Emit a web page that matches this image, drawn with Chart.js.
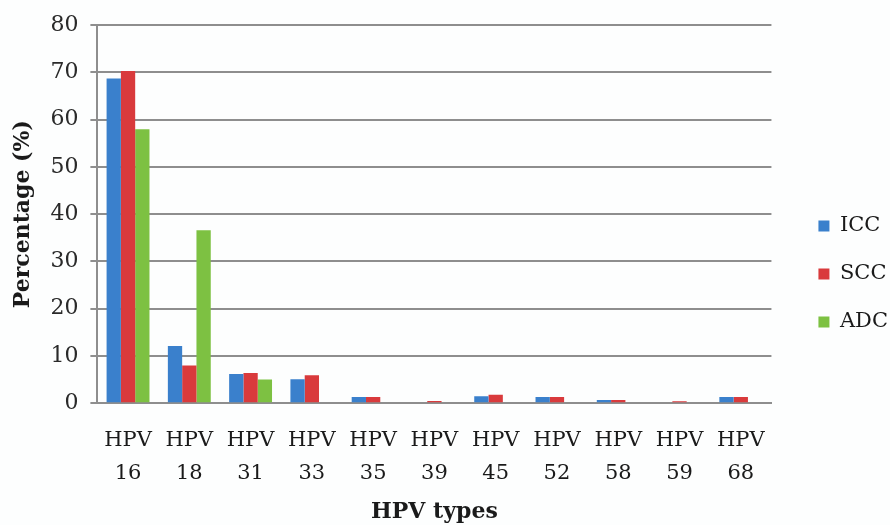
<!DOCTYPE html>
<html>
<head>
<meta charset="utf-8">
<script src="https://cdn.jsdelivr.net/npm/chart.js@4"></script>
<style>
  html, body { margin: 0; padding: 0; background: #fdfefe; }
  #wrap { width: 890px; height: 525px; position: relative; }
</style>
</head>
<body>
<div id="wrap"><canvas id="hpvChart"></canvas></div>
<script>
// --- Data ---
const hpvTypes = [["HPV", "16"], ["HPV", "18"], ["HPV", "31"], ["HPV", "33"], ["HPV", "35"],
                  ["HPV", "39"], ["HPV", "45"], ["HPV", "52"], ["HPV", "58"], ["HPV", "59"], ["HPV", "68"]];
const iccValues = [68.7, 12.1, 6.2, 5.1, 1.3, 0, 1.5, 1.3, 0.7, 0, 1.3];
const sccValues = [70.3, 8.0, 6.4, 5.9, 1.3, 0.5, 1.8, 1.3, 0.7, 0.4, 1.3];
const adcValues = [58.0, 36.6, 5.0, 0, 0, 0, 0, 0, 0, 0, 0];
const yTicks = [0, 10, 20, 30, 40, 50, 60, 70, 80];

const FONT = "'DejaVu Serif', serif";
const GRID = "#8e8e8e";
const LEGEND_SHIFT = 20; // push the legend column a bit away from the plot

// small plugin: move the legend right after layout (Chart.js keeps it flush with the plot)
const legendNudge = {
  id: 'legendNudge',
  afterLayout(chart) {
    if (chart.legend) {
      chart.legend.left += LEGEND_SHIFT;
      chart.legend.right += LEGEND_SHIFT;
    }
  }
};

const ctx = document.getElementById("hpvChart").getContext("2d");
const hpvChart = new Chart(ctx, {
  type: 'bar',
  data: {
    labels: hpvTypes,
    datasets: [
      { label: 'ICC', data: iccValues, backgroundColor: '#3a80cc' },
      { label: 'SCC', data: sccValues, backgroundColor: '#d93a3c' },
      { label: 'ADC', data: adcValues, backgroundColor: '#7dc142' }
    ]
  },
  options: {
    responsive: true,
    maintainAspectRatio: false,
    animation: false,
    datasets: { bar: { categoryPercentage: 0.7, barPercentage: 1.0 } },
    layout: { padding: { top: 3, right: 12, bottom: 0, left: 6 } },
    scales: {
      x: {
        grid: { display: false },
        border: { display: true, color: GRID, width: 2 },
        ticks: { color: '#1a1a1a', font: { family: FONT, size: 21, lineHeight: 1.58 }, maxRotation: 0, padding: 13 },
        title: { display: true, text: 'HPV types', color: '#1a1a1a',
                 font: { family: FONT, size: 22, weight: 'bold' }, padding: { top: -5, bottom: 0 } }
      },
      y: {
        min: 0, max: 80,
        afterBuildTicks: (axis) => { axis.ticks = yTicks.map(v => ({ value: v })); },
        grid: { color: GRID, lineWidth: 2, tickLength: 7 },
        border: { display: true, color: GRID, width: 2 },
        ticks: { color: '#2a2a2a', font: { family: FONT, size: 22 }, padding: 12 },
        title: { display: true, text: 'Percentage (%)', color: '#1a1a1a',
                 font: { family: FONT, size: 22, weight: 'bold' }, padding: { bottom: 2 } }
      }
    },
    plugins: {
      legend: {
        position: 'right',
        title: { display: true, text: ' ', font: { size: 10 }, padding: { top: 4, bottom: 4 } },
        labels: { color: '#1a1a1a', font: { family: FONT, size: 21 }, boxWidth: 11, boxHeight: 11, padding: 27 }
      },
      tooltip: { enabled: false }
    }
  },
  plugins: [legendNudge]
});
</script>
</body>
</html>
